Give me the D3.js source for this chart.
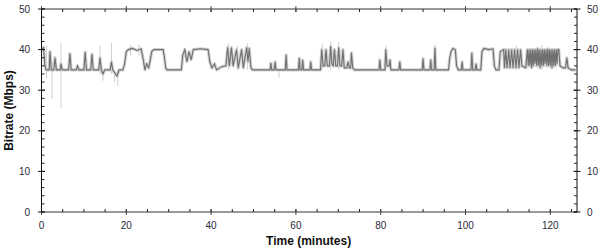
<!DOCTYPE html>
<html>
<head>
<meta charset="utf-8">
<script src="https://cdn.jsdelivr.net/npm/d3@7"></script>
<style>
  body { margin: 0; background: #fff; }
  svg { display: block; }
  .tick-label { font-family: "Liberation Sans Narrow", "Arial Narrow", "Liberation Sans", Arial, sans-serif; font-size: 10px; fill: #2a2a3a; }
  .axis-title { font-family: "Liberation Sans", Arial, sans-serif; font-size: 12px; font-weight: bold; fill: #111; }
</style>
</head>
<body>
<svg id="chart" width="600" height="249"></svg>
<script>
// dark (averaged) bitrate trace: minutes -> Mbps
var timeMin = [
  0, 0.5, 0.8, 1.1, 1.8, 2.0, 2.3, 2.9, 3.2, 3.5,
  4.4, 4.6, 4.9, 6.4, 6.7, 7.0, 8.2, 8.5, 8.8, 10.0,
  10.3, 10.6, 11.6, 11.9, 12.2, 13.5, 13.8, 14.1, 14.5, 14.9,
  16.2, 16.5, 16.8, 17.8, 18.3, 19.2, 19.6, 20.0, 20.5, 21.5,
  22.5, 23.5, 24.0, 24.4, 24.8, 25.3, 26.0, 26.5, 28.7, 29.0,
  29.3, 29.6, 33.0, 33.3, 33.8, 34.3, 34.8, 35.3, 35.8, 37.5,
  39.3, 39.7, 40.2, 40.8, 41.3, 42.5, 43.5, 43.9, 44.3, 44.8,
  45.2, 46.0, 46.4, 47.2, 47.6, 48.4, 48.7, 49.0, 49.4, 49.8,
  53.9, 54.1, 54.3, 54.9, 55.1, 55.3, 57.5, 57.7, 57.9, 60.6,
  60.8, 61.0, 61.4, 61.6, 61.8, 63.3, 63.5, 63.7, 65.8, 66.1,
  66.4, 66.8, 67.1, 67.4, 67.9, 68.2, 68.5, 68.8, 69.1, 69.4,
  69.8, 70.1, 70.4, 70.8, 71.1, 71.4, 72.0, 72.3, 72.6, 72.9,
  73.1, 73.4, 73.8, 79.6, 79.8, 80.0, 81.0, 81.2, 81.5, 82.0,
  82.2, 82.4, 84.3, 84.5, 84.7, 89.8, 90.0, 90.2, 91.6, 91.8,
  92.0, 92.6, 92.8, 93.0, 96.0, 96.3, 96.6, 97.0, 97.6, 97.9,
  98.3, 99.0, 99.2, 99.4, 101.3, 101.5, 101.7, 102.3, 102.5, 102.7,
  103.6, 103.9, 104.3, 105.5, 106.5, 106.8, 107.2, 107.9, 108.2, 109.0,
  109.2, 109.5, 109.8, 110.2, 110.5, 110.9, 111.2, 111.6, 111.9, 112.3,
  112.6, 113.0, 113.3, 114.2, 114.6, 114.8, 115.0, 115.2, 115.4, 115.6,
  115.8, 116.0, 116.2, 116.4, 116.6, 116.8, 117.0, 117.2, 117.4, 117.6,
  117.8, 118.0, 118.2, 118.4, 118.6, 118.8, 119.0, 119.2, 119.4, 119.6,
  119.8, 120.0, 120.2, 120.4, 120.6, 120.8, 121.0, 121.2, 121.4, 121.6,
  121.8, 122.0, 122.3, 123.0, 123.6, 123.9, 124.2, 125.0, 126.0];
var avgMbps = [
  40, 40.5, 36, 35, 35, 39.5, 35, 35, 38, 35,
  35, 36.5, 35, 35, 39, 35, 35, 36, 35, 35,
  39.4, 35, 35, 38.9, 35, 35, 38, 35, 34, 35,
  35, 37, 35, 33.5, 35, 35, 36.5, 39.5, 40, 40.3,
  39.8, 40.2, 37.5, 35, 36.5, 35.5, 39.5, 40, 40, 38,
  35.5, 35, 35, 38.5, 40, 37, 39.5, 37.5, 40, 40.2,
  40, 37, 35.5, 36.5, 35, 35.8, 36, 40.5, 36, 40.5,
  36, 40, 35.5, 40, 35.5, 40.5, 37, 40.3, 35.5, 35,
  35, 36.7, 35, 35, 37, 35, 35, 38.7, 35, 35,
  37.9, 35, 35, 37.4, 35, 35, 37, 35, 35, 40,
  36, 36, 40, 36, 36, 40.8, 36.5, 36, 40, 36,
  36, 40.5, 36, 36, 40, 35.5, 35.5, 37, 35.5, 35.5,
  39.2, 35.5, 35, 35, 37.5, 35, 35, 40, 36, 36,
  37.5, 35, 35, 37, 35, 35, 37.8, 35, 35, 37.5,
  35, 35, 40.4, 35, 35, 38, 39.5, 40.3, 40, 36,
  35, 35, 37, 35, 35, 39.2, 35, 35, 36.5, 35,
  35, 39.5, 40.3, 40, 40.2, 36, 35, 35, 39.5, 40,
  35.5, 40, 35.5, 40, 35.5, 40, 35.5, 40, 35.5, 40,
  35.5, 40, 36, 35.5, 40, 36, 40, 36, 40, 35.5,
  40, 36, 40, 36.5, 40, 36, 40.3, 36, 40, 35.5,
  40, 36, 40, 36, 40, 36.5, 40, 36, 40.2, 36,
  40, 36, 40, 35.5, 40, 36, 40, 36, 40, 36.5,
  40, 40, 36, 35.5, 35.5, 38, 35.5, 35, 35];

// light (per-sample) excursions outside the averaged trace
var rawTime = [1.2, 2.5, 4.6, 13.8, 14.5, 16.5, 17.2, 18.0, 21.0, 23.0, 44.1, 46.2, 48.6, 56.0, 66.2, 68.2, 70.1, 81.2, 92.8, 112.0, 118.0];
var rawLow  = [33.0, 27.8, 25.6, 34.0, 32.3, 34.0, 32.0, 31.0, 38.5, 38.5, 35.0, 35.0, 35.0, 33.0, 35.0, 35.0, 35.0, 35.0, 35.0, 35.0, 35.0];
var rawHigh = [41.0, 37.0, 41.6, 41.0, 35.0, 41.6, 35.0, 35.0, 41.2, 41.3, 41.5, 41.0, 41.5, 35.0, 41.5, 42.0, 41.8, 41.0, 41.2, 41.0, 41.2];

var yTicks = [0, 10, 20, 30, 40, 50];
var xTicks = [0, 20, 40, 60, 80, 100, 120];

function drawChart() {
    var svg = d3.select("#chart");
    var left = 41.5, right = 577, top = 9, bottom = 212;

    var x = d3.scaleLinear().domain([0, 126.3]).range([left, right]);
    var y = d3.scaleLinear().domain([0, 50]).range([bottom, top]);

    var pts = timeMin.map(function(t, i){ return [t, avgMbps[i]]; });
    var line = d3.line().x(function(d){ return x(d[0]); }).y(function(d){ return y(d[1]); });

    var plot = svg.append("g");

    /* light band: pale stroke under the averaged line, plus raw spikes */
    plot.append("path").datum(pts)
        .attr("d", line)
        .attr("fill", "none")
        .attr("stroke", "#d2d2d2")
        .attr("stroke-width", 3.2)
        .attr("stroke-linejoin", "round");

    plot.selectAll("line.raw").data(rawTime).enter().append("line")
        .attr("class", "raw")
        .attr("x1", function(d){ return x(d); })
        .attr("x2", function(d){ return x(d); })
        .attr("y1", function(d, i){ return y(rawLow[i]); })
        .attr("y2", function(d, i){ return y(rawHigh[i]); })
        .attr("stroke", "#cfcfcf")
        .attr("stroke-width", 1);

    plot.append("path").datum(pts)
        .attr("d", line)
        .attr("fill", "none")
        .attr("stroke", "#707070")
        .attr("stroke-width", 1.1);

    // frame: gray top/bottom, black left/right
    svg.append("line").attr("x1", left).attr("x2", right).attr("y1", top).attr("y2", top)
        .attr("stroke", "#999").attr("stroke-width", 2);
    svg.append("line").attr("x1", left).attr("x2", right).attr("y1", bottom).attr("y2", bottom)
        .attr("stroke", "#999").attr("stroke-width", 2);

    // minor x ticks every 5 min, inside the frame
    var xMinor = d3.range(0, 126.3, 5);
    [top, bottom].forEach(function(yy, k){
        var dir = k === 0 ? 1 : -1;
        svg.selectAll(null).data(xMinor).enter().append("line")
            .attr("x1", function(d){ return x(d); }).attr("x2", function(d){ return x(d); })
            .attr("y1", yy).attr("y2", yy + dir * 3)
            .attr("stroke", "#222").attr("stroke-width", 1);
        svg.selectAll(null).data(xTicks).enter().append("line")
            .attr("x1", function(d){ return x(d); }).attr("x2", function(d){ return x(d); })
            .attr("y1", yy - 3).attr("y2", yy + 3)
            .attr("stroke", "#444").attr("stroke-width", 1);
    });

    svg.append("line").attr("x1", left).attr("x2", left).attr("y1", top).attr("y2", bottom)
        .attr("stroke", "#111").attr("stroke-width", 1);
    svg.append("line").attr("x1", right).attr("x2", right).attr("y1", top).attr("y2", bottom)
        .attr("stroke", "#111").attr("stroke-width", 1);

    var yMinor = d3.range(0, 50.1, 2);
    [left, right].forEach(function(xx, k){
        var dir = k === 0 ? 1 : -1;
        svg.selectAll(null).data(yMinor).enter().append("line")
            .attr("x1", xx).attr("x2", xx + dir * 3)
            .attr("y1", function(d){ return y(d); }).attr("y2", function(d){ return y(d); })
            .attr("stroke", "#222").attr("stroke-width", 1);
        svg.selectAll(null).data(yTicks).enter().append("line")
            .attr("x1", xx - 3.5).attr("x2", xx + 3.5)
            .attr("y1", function(d){ return y(d); }).attr("y2", function(d){ return y(d); })
            .attr("stroke", "#111").attr("stroke-width", 1);
    });

    // tick labels
    svg.selectAll(null).data(yTicks).enter().append("text")
        .attr("class", "tick-label")
        .attr("x", 30).attr("y", function(d){ return y(d) + 3.5; })
        .attr("text-anchor", "end")
        .text(function(d){ return d; });
    svg.selectAll(null).data(yTicks).enter().append("text")
        .attr("class", "tick-label")
        .attr("x", 587).attr("y", function(d){ return y(d) + 3.5; })
        .text(function(d){ return d; });
    svg.selectAll(null).data(xTicks).enter().append("text")
        .attr("class", "tick-label")
        .attr("x", function(d){ return x(d); }).attr("y", 229)
        .attr("text-anchor", "middle")
        .text(function(d){ return d; });

    svg.append("text").attr("class", "axis-title")
        .attr("x", x(63)).attr("y", 245)
        .attr("text-anchor", "middle")
        .text("Time (minutes)");
    svg.append("text").attr("class", "axis-title")
        .attr("transform", "translate(13," + y(25) + ") rotate(-90)")
        .attr("text-anchor", "middle")
        .text("Bitrate (Mbps)");
}

drawChart();
</script>
</body>
</html>
